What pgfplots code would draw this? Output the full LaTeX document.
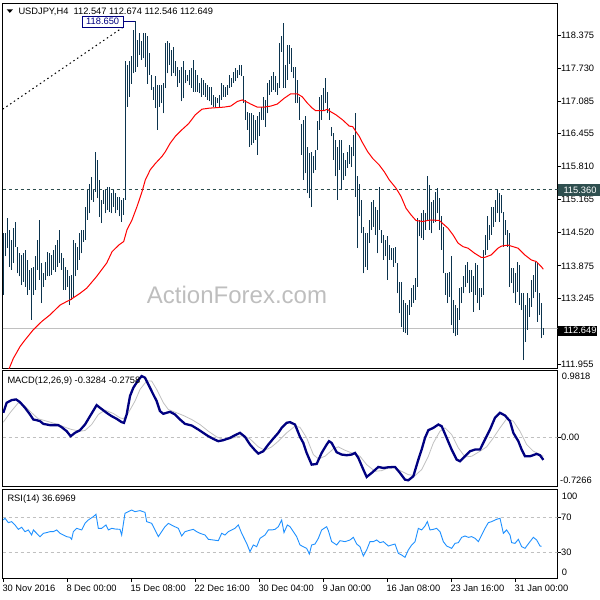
\documentclass[border=0pt]{standalone}
\usepackage{fontspec}
\setmainfont{Liberation Sans}
\usepackage{pgfplots}
\pgfplotsset{compat=1.18}
\usepackage{pgfplotstable}
\definecolor{barc}{RGB}{12,52,78}
\definecolor{dslate}{RGB}{47,79,79}
\definecolor{lgray}{RGB}{192,192,192}
\definecolor{wm}{RGB}{190,190,190}
\definecolor{mnavy}{RGB}{0,0,128}
\definecolor{rsic}{RGB}{30,144,255}
\newcommand{\lbl}{\fontsize{9.3}{10}\selectfont}
\pgfplotstableread{
h l
114.51 113.31
114.51 114.06
114.80 114.22
114.58 113.86
114.38 113.80
114.61 113.93
114.74 114.25
114.25 113.73
114.12 113.67
114.09 113.50
114.12 113.57
114.19 113.47
113.99 113.31
113.80 113.41
113.83 112.82
113.86 113.31
114.06 113.41
114.38 113.80
114.77 113.60
113.93 113.15
113.73 113.47
113.96 113.60
114.15 113.67
114.12 113.67
114.09 113.70
114.19 113.80
114.28 113.76
114.38 113.86
114.58 113.93
114.12 113.80
114.02 113.41
113.86 113.41
113.80 113.47
113.67 113.11
113.70 113.21
114.38 113.27
114.32 113.67
114.25 113.80
114.51 113.99
114.58 114.12
114.58 114.35
115.03 114.38
115.35 114.77
115.48 114.90
115.61 115.16
115.35 115.13
116.10 115.32
115.94 115.19
115.55 114.83
115.16 114.71
115.35 115.09
115.35 114.90
115.42 114.97
115.42 114.93
115.29 114.90
115.35 115.03
115.29 114.90
115.22 114.97
115.22 114.84
115.16 114.74
115.19 114.87
117.86 115.16
117.79 116.98
117.86 117.17
117.96 117.43
118.48 117.63
118.65 117.66
118.28 117.76
118.41 117.99
118.25 117.89
118.41 117.92
118.41 117.76
118.35 117.43
118.02 117.60
117.60 117.31
117.37 117.11
117.57 116.95
117.40 116.53
117.40 116.98
117.40 117.05
117.44 116.85
118.22 117.34
118.25 117.63
118.22 117.79
118.09 117.57
118.15 117.63
117.86 117.57
117.76 117.37
117.70 117.44
117.76 117.08
117.86 117.14
117.70 117.44
117.60 117.47
117.70 117.40
117.73 117.34
117.89 117.27
117.70 117.27
117.60 117.27
117.44 117.24
117.53 117.17
117.50 117.21
117.44 117.17
117.40 117.11
117.37 117.08
117.37 117.01
117.21 116.98
117.17 116.98
117.14 117.05
117.21 116.98
117.44 117.11
117.40 117.17
117.37 117.17
117.40 117.21
117.60 117.34
117.53 117.37
117.66 117.44
117.73 117.47
117.70 117.53
117.79 117.60
117.79 117.57
117.57 117.05
117.11 116.72
116.88 116.53
116.85 116.20
116.85 116.23
116.82 116.27
116.72 116.33
116.79 116.04
116.88 116.40
116.98 116.72
117.17 116.72
117.11 116.59
117.44 116.85
117.50 117.21
117.57 117.27
117.66 117.31
117.57 117.27
117.44 117.21
118.22 117.34
118.35 118.05
118.61 117.34
117.79 117.34
118.18 117.50
118.18 117.82
118.12 117.66
117.76 117.53
117.76 117.05
117.50 117.05
117.17 116.72
116.65 116.04
116.72 115.55
116.79 115.68
116.20 115.29
116.07 115.19
116.10 115.03
116.01 115.68
116.14 115.75
116.69 116.14
117.17 116.53
117.21 116.72
117.34 116.91
117.53 117.05
117.27 116.85
116.95 116.72
116.59 116.40
116.46 115.94
116.33 115.62
116.20 115.16
116.33 115.75
116.33 115.35
116.07 115.55
115.94 115.62
116.10 115.78
116.23 115.87
116.20 115.81
116.43 116.01
116.85 115.22
115.62 114.22
115.48 114.84
115.16 114.51
114.64 113.73
114.51 113.86
114.51 113.80
114.77 114.32
115.13 114.58
115.16 114.64
115.03 114.48
114.97 114.12
115.42 114.58
114.58 114.32
114.48 113.99
114.38 114.06
114.45 113.60
114.28 113.99
114.22 113.99
114.22 113.86
114.25 113.93
113.93 113.34
113.57 112.95
113.57 112.69
113.21 112.59
113.15 112.56
113.11 112.53
113.21 112.92
113.44 113.08
113.50 113.15
113.63 113.21
114.80 113.47
114.77 114.45
114.90 114.41
114.97 114.38
114.90 114.58
115.62 114.77
115.45 114.58
115.13 114.51
115.16 114.71
115.32 114.74
115.39 114.90
115.19 114.58
114.84 114.19
114.64 113.73
113.73 113.31
113.73 113.15
113.76 113.27
114.06 112.72
113.21 112.56
113.11 112.50
113.05 112.53
113.44 112.82
113.47 113.15
113.67 113.34
113.89 113.47
113.96 113.54
113.80 113.34
113.80 113.37
113.67 112.98
113.93 113.31
113.89 113.15
113.44 113.01
113.44 113.27
114.19 113.31
114.48 114.09
114.84 114.19
114.67 114.38
115.03 114.48
115.03 114.64
115.16 114.74
115.35 114.90
115.29 114.74
115.26 114.90
114.93 114.25
114.77 114.48
114.58 114.25
114.51 113.47
113.83 113.54
113.83 113.34
113.73 113.15
113.96 113.37
113.89 113.11
113.34 113.01
113.34 112.04
113.11 112.40
113.34 112.63
113.24 112.88
113.60 113.08
113.70 113.24
113.96 113.37
113.93 112.79
113.34 112.92
113.15 112.46
112.66 112.53
}\bars
\begin{document}
\begin{tikzpicture}
\useasboundingbox (0,0) rectangle (600pt,-600pt);
\node[text=wm, font=\fontsize{24}{24}\selectfont, inner sep=0pt] at (237pt,-295pt) {ActionForex.com};
% ---------- main price panel ----------
\begin{axis}[
  at={(2.7pt,-3pt)}, anchor=north west,
  scale only axis, width=554.8pt, height=365.3pt,
  xmin=-0.3, xmax=277.1, ymin=111.878, ymax=119.0,
  axis line style={line width=1pt, black},
  xtick=\empty,
  ytick={118.375,117.730,117.085,116.455,115.810,115.165,114.520,113.875,113.245,111.955},
  yticklabels={118.375,117.730,117.085,116.455,115.810,115.165,114.520,113.875,113.245,111.955},
  ytick pos=right, yticklabel pos=right,
  tick align=outside, major tick length=3.5pt,
  every tick/.style={black, line width=0.8pt},
  yticklabel style={anchor=west, inner sep=0pt, font=\lbl},
]
\addplot[lgray, line width=1pt] coordinates {(-0.3,112.649) (277.1,112.649)};
\addplot[dslate, line width=1pt, dash pattern=on 3.3pt off 2.7pt] coordinates {(-0.3,115.36) (277.1,115.36)};
\addplot[black, line width=1pt, dash pattern=on 1.5pt off 3pt] coordinates {(-0.3,116.93) (60.35,118.54)};
\addplot[mnavy, line width=0.8pt] coordinates {(60.35,118.65) (66,118.65)};
\addplot[draw=none, mark=none, error bars/.cd, y dir=plus, y explicit, error mark=none,
  error bar style={draw=barc, line width=1.3pt, solid}]
  table[x expr=\coordindex, y=l, y error plus expr=\thisrow{h}-\thisrow{l}] {\bars};
\addplot[red, line width=1pt] coordinates {
(2.5,111.85) (3.0,111.88) (5.0,112.07) (8.35,112.30) (10.85,112.43) (15.0,112.63) (19.2,112.79)
(23.35,112.92) (28.35,113.11) (31.7,113.18) (33.35,113.21) (38.35,113.34) (41.7,113.44) (46.7,113.67)
(51.7,113.93) (54.35,114.15) (57.7,114.28) (60.2,114.35) (61.85,114.58) (64.35,114.77) (66.85,115.03)
(69.35,115.32) (71.0,115.55) (73.5,115.75) (76.0,115.87) (79.35,116.01) (81.0,116.10) (83.5,116.27)
(86.0,116.40) (89.35,116.53) (92.7,116.65) (96.0,116.82) (99.35,116.93) (103,116.95) (110.35,116.97)
(113.7,116.99) (117.0,117.08) (119.5,117.11) (121.2,117.08) (123.7,117.03) (127.0,116.97) (130.35,116.97)
(133.7,116.99) (137.0,117.03) (140.35,117.14) (143.7,117.23) (147.0,117.23) (149.5,117.17) (152.0,117.05)
(154.5,116.95) (156.2,116.90) (160.35,116.90) (162.0,116.93) (163.7,116.88) (166.35,116.82) (169.7,116.72)
(173.0,116.60) (174.7,116.59) (176.35,116.49) (178.0,116.40) (179.7,116.27) (182.2,116.10) (184.7,115.97)
(188.0,115.84) (190.5,115.71) (193.0,115.55) (196.35,115.39) (198.85,115.23) (201.35,115.00) (203.85,114.87)
(206.35,114.76) (209.7,114.74) (212.2,114.76) (213.85,114.77) (218.0,114.76) (219.7,114.70) (222.35,114.61)
(224.85,114.48) (227.35,114.32) (229.85,114.25) (232.35,114.22) (235.7,114.12) (239.0,114.04) (240.7,114.04)
(244.0,114.09) (247.35,114.22) (249.0,114.26) (252.35,114.28) (254.85,114.25) (257.35,114.22) (260.7,114.09)
(264.0,113.99) (266.5,113.96) (269.0,113.86) (270.0,113.81)};
\end{axis}
% ---------- MACD panel ----------
\begin{axis}[
  at={(2.7pt,-370.7pt)}, anchor=north west,
  scale only axis, width=554.8pt, height=116.3pt,
  xmin=-0.3, xmax=277.1, ymin=-0.7266, ymax=0.9818,
  axis line style={line width=1pt, black},
  xtick=\empty, ytick={0}, yticklabels={0.00},
  ytick pos=right, yticklabel pos=right,
  tick align=outside, major tick length=3.5pt,
  every tick/.style={black, line width=0.8pt},
  yticklabel style={anchor=west, inner sep=0pt, font=\lbl},
]
\addplot[lgray, line width=1pt, dash pattern=on 3pt off 3pt] coordinates {(-0.3,0) (277.1,0)};
\addplot[lgray, line width=0.8pt] coordinates {
(0.02,0.226) (3.35,0.363) (7.52,0.511) (10.85,0.461) (14.18,0.363) (17.52,0.275) (21.68,0.241) (27.52,0.191)
(31.68,0.142) (34.18,0.118) (38.35,0.093) (40.85,0.103) (44.18,0.191) (47.52,0.339) (50.85,0.403) (55.02,0.353)
(58.35,0.290) (60.02,0.275) (62.52,0.363) (65.85,0.535) (68.35,0.707) (71.68,0.830) (74.18,0.830) (76.68,0.707)
(80.02,0.511) (82.52,0.412) (85.85,0.373) (90.02,0.324) (94.18,0.265) (98.35,0.191) (102.52,0.093) (106.68,0.010)
(110.02,-0.029) (113.35,-0.020) (116.68,0.010) (120.02,0.029) (123.35,-0.020) (127.52,-0.137) (130.85,-0.187)
(134.18,-0.137) (137.52,-0.054) (141.68,0.069) (145.85,0.167) (148.35,0.150) (151.68,-0.005) (155.02,-0.250)
(157.52,-0.314) (160.85,-0.275) (165.02,-0.167) (167.52,-0.137) (170.85,-0.187) (175.02,-0.236) (178.35,-0.275)
(181.68,-0.398) (185.85,-0.496) (189.18,-0.486) (192.52,-0.447) (195.85,-0.447) (199.18,-0.496) (202.52,-0.545)
(205.85,-0.560) (209.18,-0.471) (212.52,-0.275) (215.02,-0.079) (218.35,0.093) (220.85,0.142) (224.18,0.044)
(227.52,-0.152) (230.85,-0.285) (234.18,-0.275) (238.35,-0.201) (241.68,-0.137) (245.02,-0.005) (248.35,0.142)
(251.68,0.275) (255.02,0.241) (258.35,0.093) (261.68,-0.103) (265.02,-0.201) (268.35,-0.250) (270.02,-0.276)};
\addplot[mnavy, line width=2.3pt] coordinates {
(0.02,0.363) (1.68,0.511) (4.18,0.550) (6.35,0.560) (8.35,0.520) (10.85,0.437) (13.35,0.339) (15.0,0.265)
(16.68,0.255) (18.35,0.241) (20.0,0.201) (23.35,0.182) (27.5,0.182) (29.18,0.152) (31.68,0.093) (33.68,0.020)
(35.85,0.069) (38.35,0.108) (40.85,0.191) (43.35,0.314) (46.68,0.476) (48.35,0.437) (51.68,0.363) (54.18,0.314)
(56.68,0.275) (59.18,0.226) (60.35,0.216) (61.68,0.339) (63.35,0.609) (65.0,0.731) (67.5,0.844) (69.18,0.903)
(70.85,0.879) (72.5,0.781) (75.0,0.633) (76.68,0.535) (78.35,0.388) (80.0,0.349) (83.35,0.378) (85.85,0.339)
(88.35,0.265) (90.85,0.201) (94.18,0.177) (97.5,0.118) (100.0,0.069) (102.5,0.020) (105.0,-0.020) (107.5,-0.054)
(110.0,-0.039) (113.35,-0.005) (115.85,0.034) (118.35,0.069) (120.85,0.010) (123.35,-0.103) (125.85,-0.187)
(127.5,-0.236) (130.0,-0.201) (132.5,-0.103) (135.0,-0.015) (137.5,0.069) (139.18,0.142) (141.68,0.216)
(143.35,0.226) (145.85,0.191) (148.35,0.010) (150.02,-0.079) (151.68,-0.226) (154.18,-0.398) (156.68,-0.388)
(159.18,-0.226) (161.68,-0.103) (162.85,-0.054) (164.18,-0.079) (166.68,-0.216) (169.18,-0.250) (171.68,-0.260)
(174.18,-0.250) (175.85,-0.226) (177.52,-0.299) (180.02,-0.471) (181.68,-0.579) (184.18,-0.520) (187.52,-0.432)
(190.02,-0.447) (192.52,-0.437) (195.85,-0.432) (198.35,-0.520) (200.85,-0.619) (202.52,-0.628) (205.02,-0.569)
(207.52,-0.324) (209.18,-0.177) (210.85,-0.005) (212.52,0.108) (215.02,0.142) (217.52,0.191) (219.18,0.167)
(221.68,-0.005) (224.18,-0.177) (226.68,-0.324) (228.35,-0.349) (230.85,-0.275) (233.35,-0.201) (235.85,-0.177)
(238.35,-0.177) (240.85,-0.029) (243.35,0.118) (245.85,0.290) (248.35,0.363) (250.85,0.324) (253.35,0.241)
(255.02,0.069) (257.52,-0.054) (259.18,-0.177) (260.85,-0.275) (263.35,-0.275) (266.68,-0.241) (268.35,-0.260)
(270.02,-0.328)};
\end{axis}
% ---------- RSI panel ----------
\begin{axis}[
  at={(2.7pt,-489.3pt)}, anchor=north west,
  scale only axis, width=554.8pt, height=89.4pt,
  xmin=-0.3, xmax=277.1, ymin=-1.05, ymax=103,
  axis line style={line width=1pt, black},
  xtick={0,32,64,96,128,160,192,224,256},
  xticklabels={30 Nov 2016,8 Dec 00:00,15 Dec 08:00,22 Dec 16:00,30 Dec 04:00,9 Jan 00:00,16 Jan 08:00,23 Jan 16:00,31 Jan 00:00},
  ytick={70,30}, yticklabels={70,30},
  xtick pos=left, ytick pos=right, yticklabel pos=right,
  tick align=outside, major tick length=3.5pt,
  every tick/.style={black, line width=0.8pt},
  yticklabel style={anchor=west, inner sep=0pt, font=\lbl},
  xticklabel style={anchor=north west, inner sep=0pt, font=\lbl, xshift=-1pt, yshift=-3pt},
]
\addplot[lgray, line width=1pt, dash pattern=on 3pt off 3pt] coordinates {(-0.3,70) (277.1,70)};
\addplot[lgray, line width=1pt, dash pattern=on 3pt off 3pt] coordinates {(-0.3,30) (277.1,30)};
\addplot[rsic, line width=0.9pt] coordinates {
(0,67.3) (0.85,69.3) (2.52,64.2) (4.18,65.4) (5.85,61.5) (7.52,56.4) (9.18,58.8) (10.85,53.7) (12.52,55.7)
(14.18,49.8) (15.02,55.7) (16.68,51.8) (18.35,47.9) (20.02,51.8) (21.68,52.6) (23.35,53.7) (25.02,53.7)
(26.68,55.7) (28.35,51.8) (30.02,49.8) (31.68,47.9) (33.35,47.1) (34.18,44.8) (35.02,53.7) (36.68,57.6)
(39.18,55.7) (40.85,63.4) (42.52,67.3) (45.02,71.2) (46.35,73.9) (47.52,57.6) (49.18,57.6) (51.35,61.5)
(52.52,55.7) (54.18,57.6) (55.85,56.8) (58.35,56.4) (59.18,49.8) (60.85,75.1) (62.52,77.0) (64.18,78.9)
(65.85,77.0) (68.35,78.2) (70.85,76.2) (71.68,65.4) (74.18,63.4) (75.85,55.7) (77.52,47.9) (79.18,53.7)
(80.85,59.5) (82.52,63.4) (85.02,60.3) (87.52,57.6) (89.18,48.7) (90.85,53.7) (92.52,54.9) (95.02,56.4)
(96.68,53.7) (98.35,51.8) (100.85,49.8) (102.52,44.8) (105.02,44.0) (107.52,43.2) (109.18,51.8) (110.85,49.8)
(112.52,53.7) (114.18,55.7) (115.85,57.6) (117.52,61.5) (119.18,51.8) (121.68,40.1) (123.35,30.4) (125.02,38.2)
(126.68,36.2) (128.35,45.9) (130.85,49.8) (132.52,55.7) (134.18,55.7) (135.85,56.4) (137.52,59.5) (139.18,67.3)
(140.35,52.6) (142.02,61.5) (143.35,59.5) (145.02,53.7) (146.68,47.9) (148.35,38.2) (150.02,36.2) (151.68,34.3)
(153.02,27.7) (154.18,38.2) (155.85,39.3) (157.52,45.9) (159.18,55.7) (161.68,59.5) (162.52,54.9) (164.18,42.1)
(166.68,38.2) (168.35,43.2) (170.85,42.1) (173.35,44.0) (175.02,47.1) (176.68,39.3) (178.35,36.2) (180.02,25.4)
(181.68,32.4) (183.35,42.1) (185.02,42.1) (186.68,44.0) (188.35,40.9) (190.02,42.1) (192.52,37.0) (194.18,38.2)
(195.85,39.3) (197.52,28.5) (199.18,26.5) (200.85,23.8) (202.52,32.4) (204.18,38.2) (205.85,42.1) (207.52,57.6)
(209.18,55.7) (210.85,60.3) (212.02,65.4) (213.35,55.7) (215.02,56.4) (216.68,57.6) (218.35,53.7) (220.02,42.1)
(221.68,37.0) (224.18,34.3) (225.85,40.1) (227.52,40.9) (229.18,47.1) (230.85,48.7) (232.52,47.1) (234.18,47.9)
(235.85,45.9) (237.52,42.1) (239.18,49.8) (240.85,57.6) (242.52,64.2) (244.18,65.4) (246.68,68.1) (248.35,69.3)
(250.02,51.8) (251.68,55.7) (253.35,49.8) (254.18,40.9) (255.85,40.1) (257.52,44.8) (259.18,36.2) (260.85,34.3)
(263.35,42.1) (265.02,47.1) (266.68,44.0) (268.35,37.0) (269.18,36.7)};
\end{axis}
% ---------- texts ----------
\fill[black] (6.7pt,-9.3pt) -- (13pt,-9.3pt) -- (9.85pt,-12.9pt) -- cycle;
\node[anchor=base west, inner sep=0pt, font=\lbl] at (18.3pt,-14.3pt) {USDJPY,H4\ \ 112.547 112.674 112.546 112.649};
\draw[mnavy, line width=0.8pt, fill=white] (82pt,-16pt) rectangle (123.3pt,-27.3pt);
\node[text=mnavy, inner sep=0pt, font=\lbl] at (102.7pt,-21.7pt) {118.650};
\fill[dslate] (558.3pt,-184pt) rectangle (600pt,-195.7pt);
\node[anchor=west, inner sep=0pt, text=white, font=\lbl] at (563.3pt,-189.8pt) {115.360};
\fill[black] (558.3pt,-325.7pt) rectangle (596.7pt,-335.7pt);
\node[anchor=west, inner sep=0pt, text=white, font=\lbl] at (563.3pt,-330.7pt) {112.649};
\node[anchor=base west, inner sep=0pt, font=\lbl] at (7.3pt,-383pt) {MACD(12,26,9) -0.3284 -0.2758};
\node[anchor=west, inner sep=0pt, font=\lbl] at (561.7pt,-376.7pt) {0.9818};
\node[anchor=west, inner sep=0pt, font=\lbl] at (560pt,-480.7pt) {-0.7266};
\node[anchor=base west, inner sep=0pt, font=\lbl] at (7.3pt,-501pt) {RSI(14) 36.6969};
\node[anchor=west, inner sep=0pt, font=\lbl] at (561.7pt,-496pt) {100};
\node[anchor=west, inner sep=0pt, font=\lbl] at (561.7pt,-572.3pt) {0};
\end{tikzpicture}
\end{document}
